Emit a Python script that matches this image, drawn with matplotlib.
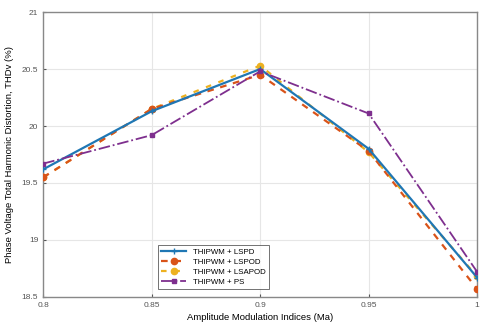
import matplotlib
matplotlib.use("Agg")
import matplotlib.pyplot as plt

# modulation indices
ma = [0.8, 0.85, 0.9, 0.95, 1.0]

# THDv (%) per method
thd_lspd = [19.62, 20.13, 20.50, 19.80, 18.67]
thd_lspod = [19.55, 20.15, 20.45, 19.78, 18.57]
thd_lsapod = [19.55, 20.15, 20.53, 19.77, 18.68]
thd_ps = [19.67, 19.92, 20.48, 20.11, 18.72]

labels = ["THIPWM + LSPD", "THIPWM + LSPOD", "THIPWM + LSAPOD", "THIPWM + PS"]

plt.rcParams['font.family'] = ['Liberation Sans', 'DejaVu Sans']

fig = plt.figure(figsize=(4.8, 3.27), dpi=100)
ax = fig.add_axes([0.09, 0.092, 0.904, 0.871])

ax.plot(ma, thd_lspd, '-', color='#1f77b4', lw=1.6, marker='+', ms=4,
        mew=1.0, label=labels[0], zorder=4)
ax.plot(ma, thd_lspod, '--', color='#D95319', lw=1.6, marker='o', ms=4.5,
        dashes=(3, 3), label=labels[1], zorder=3)
ax.plot(ma, thd_lsapod, '--', color='#EDB120', lw=1.6, marker='o', ms=4.5,
        dashes=(2.5, 3.5), label=labels[2], zorder=2)
ax.plot(ma, thd_ps, '-.', color='#7E2F8E', lw=1.3, marker='s', ms=2.5,
        label=labels[3], zorder=5)

ax.set_xlim(0.8, 1.0)
ax.set_ylim(18.5, 21)
ax.set_xticks(ma)
ax.set_xticklabels(['0.8', '0.85', '0.9', '0.95', '1'])
ax.set_yticks([18.5, 19, 19.5, 20, 20.5, 21])
ax.set_yticklabels(['18.5', '19', '19.5', '20', '20.5', '21'])
ax.grid(True, color='#e6e6e6', lw=0.8)
ax.tick_params(labelsize=6, length=2, colors='#555555', direction='in')
for s in ax.spines.values():
    s.set_color('#888888')
    s.set_linewidth(1.0)

ax.set_xlabel('Amplitude Modulation Indices (Ma)', fontsize=6.8, labelpad=3)
ax.set_ylabel('Phase Voltage Total Harmonic Distortion, THDv (%)',
              fontsize=6.8, labelpad=6)

leg = ax.legend(loc='lower left', bbox_to_anchor=(0.255, 0.015), fontsize=5.7,
                frameon=True, fancybox=False, edgecolor='#333333',
                handlelength=3.2, borderpad=0.4, labelspacing=0.3)
leg.get_frame().set_linewidth(0.6)

fig.savefig('out.png', dpi=100)
